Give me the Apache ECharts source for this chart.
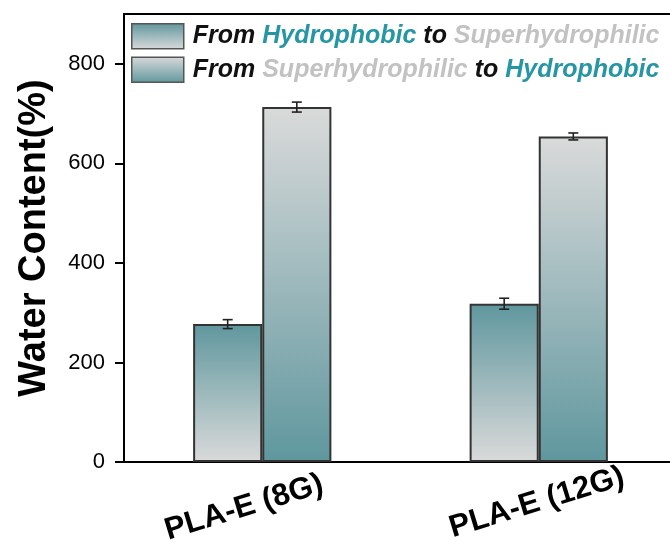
<!DOCTYPE html>
<html>
<head>
<meta charset="utf-8">
<script src="https://cdn.jsdelivr.net/npm/echarts@6/dist/echarts.min.js"></script>
<style>
html,body{margin:0;padding:0;background:#fff;}
#chart{width:670px;height:549px;}
</style>
</head>
<body>
<div id="chart"></div>
<script>
const categories = ['PLA-E (8G)', 'PLA-E (12G)'];
const seriesNames = ['From Hydrophobic to Superhydrophilic', 'From Superhydrophilic to Hydrophobic'];
const hydroToSuper = [277, 318];
const hydroToSuperErr = [9, 11];
const superToHydro = [713, 654];
const superToHydroErr = [10, 7];
const yTicks = [0, 200, 400, 600, 800];

const FONT = 'Liberation Sans, Arial, sans-serif';
const TEAL = '#5f979e';
const LIGHT = '#dadada';

function grad(topColor, bottomColor) {
  return new echarts.graphic.LinearGradient(0, 0, 0, 1, [
    { offset: 0, color: topColor },
    { offset: 1, color: bottomColor }
  ]);
}

const labelPads = [[0, 38, 0, 0], [19, 4, 0, 0]];

function errRender(sign) {
  return function (params, api) {
    const ci = api.value(0);
    const v = api.value(1);
    const e = api.value(2);
    const band = api.size([1, 0])[0];
    const off = sign * band * 0.125;
    const top = api.coord([ci, v + e]);
    const bot = api.coord([ci, v - e]);
    const x = top[0] + off;
    const cap = 5;
    const st = { stroke: '#222', lineWidth: 1.6 };
    return {
      type: 'group',
      children: [
        { type: 'line', shape: { x1: x, y1: top[1], x2: x, y2: bot[1] }, style: st },
        { type: 'line', shape: { x1: x - cap, y1: top[1], x2: x + cap, y2: top[1] }, style: st },
        { type: 'line', shape: { x1: x - cap, y1: bot[1], x2: x + cap, y2: bot[1] }, style: st }
      ]
    };
  };
}

const richBase = { fontFamily: FONT, fontSize: 25, fontStyle: 'italic', fontWeight: 'bold', lineHeight: 25 };

const chart = echarts.init(document.getElementById('chart'), null, { renderer: 'canvas' });
chart.setOption({
  animation: false,
  backgroundColor: '#fff',
  grid: {
    left: 124, right: -7, top: 14, bottom: 87,
    outerBoundsMode: 'none',
    containLabel: false,
    show: true, borderColor: '#000', borderWidth: 2, backgroundColor: 'transparent'
  },
  legend: {
    data: seriesNames,
    orient: 'vertical',
    left: 131, top: 23,
    padding: 0,
    itemWidth: 52, itemHeight: 25, itemGap: 7,
    icon: 'rect',
    itemStyle: { borderColor: '#555', borderWidth: 1.5 },
    textStyle: {
      padding: [0, 0, 0, 4],
      rich: {
        k: Object.assign({ color: '#111' }, richBase),
        h: Object.assign({ color: '#2596a3' }, richBase),
        s: Object.assign({ color: '#c2c2c2' }, richBase)
      }
    },
    formatter: function (name) {
      if (name === seriesNames[0]) return '{k|From }{h|Hydrophobic}{k| to }{s|Superhydrophilic}';
      return '{k|From }{s|Superhydrophilic}{k| to }{h|Hydrophobic}';
    }
  },
  xAxis: {
    type: 'category',
    data: categories.map((c, i) => ({
      value: c,
      textStyle: { align: 'center', verticalAlign: 'middle', padding: labelPads[i] }
    })),
    axisLine: { lineStyle: { color: '#000', width: 2 } },
    axisTick: { alignWithLabel: true, length: 9, lineStyle: { color: '#000', width: 2 } },
    axisLabel: {
      interval: 0, rotate: 17, align: 'center', verticalAlign: 'middle', margin: 40,
      fontFamily: FONT, fontSize: 31, fontWeight: 'bold', color: '#000'
    },
    splitLine: { show: false }
  },
  yAxis: {
    type: 'value',
    min: 0, max: 900, interval: 100,
    name: 'Water Content(%)',
    nameLocation: 'middle',
    nameGap: 70,
    nameTextStyle: { fontFamily: FONT, fontSize: 38, fontWeight: 'bold', color: '#000' },
    axisLine: { show: true, lineStyle: { color: '#000', width: 2 } },
    axisTick: { show: true, length: 9, customValues: yTicks, lineStyle: { color: '#000', width: 2 } },
    axisLabel: { customValues: yTicks, margin: 19, fontFamily: FONT, fontSize: 22, color: '#000' },
    splitLine: { show: false }
  },
  series: [
    {
      name: seriesNames[0], type: 'bar', barWidth: '25%', barGap: '0%',
      data: hydroToSuper,
      itemStyle: { color: grad(TEAL, LIGHT), borderColor: '#333', borderWidth: 2 }
    },
    {
      name: seriesNames[1], type: 'bar', barWidth: '25%', barGap: '0%',
      data: superToHydro,
      itemStyle: { color: grad(LIGHT, TEAL), borderColor: '#333', borderWidth: 2 }
    },
    {
      name: 'err1', type: 'custom', renderItem: errRender(-1), z: 5,
      data: hydroToSuper.map((v, i) => [i, v, hydroToSuperErr[i]])
    },
    {
      name: 'err2', type: 'custom', renderItem: errRender(1), z: 5,
      data: superToHydro.map((v, i) => [i, v, superToHydroErr[i]])
    }
  ]
});
</script>
</body>
</html>
